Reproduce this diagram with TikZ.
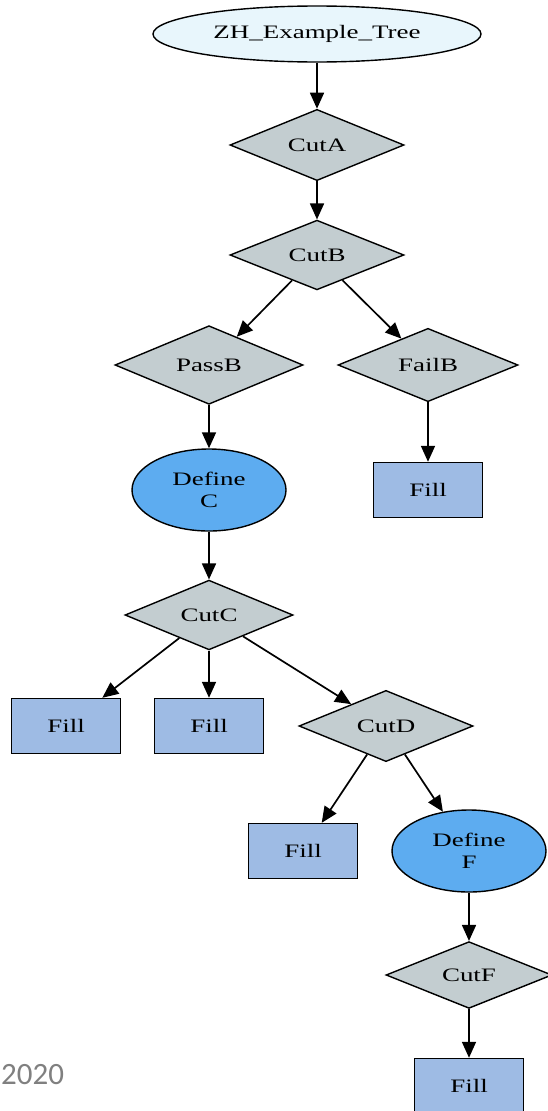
\documentclass[tikz,border=0pt]{standalone}
\usepackage{fontspec}
\setmainfont[FakeStretch=1.42]{Liberation Serif}
\newfontfamily\yearfont{Carlito}
\usepackage{xcolor}
\usepackage{tikz}
\usetikzlibrary{arrows.meta, positioning, shapes.geometric}
\definecolor{RootBG}{RGB}{232,246,252}
\definecolor{CutGray}{RGB}{195,205,208}
\definecolor{DefBlue}{RGB}{93,172,240}
\definecolor{FillBlue}{RGB}{158,187,228}
\definecolor{YearGray}{RGB}{128,128,128}

\begin{document}
\begin{tikzpicture}[
  x=1pt, y=1pt, on grid,
  every node/.style={font=\fontsize{19}{22}\selectfont},
  tree/.style={ellipse, draw, line width=1.4pt, fill=RootBG,
               minimum width=328pt, minimum height=56pt},
  cut/.style={diamond, draw, line width=1.4pt, fill=CutGray, inner sep=0pt,
              minimum width=174pt, minimum height=54pt},
  define/.style={ellipse, draw, line width=1.4pt, fill=DefBlue, align=center,
                 minimum width=154pt, minimum height=82pt},
  fillbox/.style={rectangle, draw, line width=1.4pt, fill=FillBlue,
                  minimum width=109pt, minimum height=55pt},
  arrow/.style={-{Triangle[length=16pt, width=14pt]}, line width=1.7pt}
]
\path[use as bounding box, clip] (0,0) rectangle (548,-1111);
\node[tree] (root) at (317,-34) {ZH\_Example\_Tree};
\node[cut, below=111pt of root] (cutA) {CutA};
\node[cut, below=110pt of cutA] (cutB) {CutB};
\node[cut, minimum width=188pt, below left=110pt and 108pt of cutB] (passB) {PassB};
\node[cut, minimum width=180pt, below right=110pt and 111pt of cutB] (failB) {FailB};
\node[define, below=125pt of passB] (defC) {Define\\C};
\node[fillbox, below=125pt of failB] (fillB) {Fill};
\node[cut, minimum width=168pt, below=125pt of defC] (cutC) {CutC};
\node[fillbox, below left=111pt and 143pt of cutC] (fillC1) {Fill};
\node[fillbox, below=111pt of cutC] (fillC2) {Fill};
\node[cut, below right=111pt and 177pt of cutC] (cutD) {CutD};
\node[fillbox, below left=125pt and 83pt of cutD] (fillD) {Fill};
\node[define, below right=125pt and 83pt of cutD] (defF) {Define\\F};
\node[cut, minimum width=166pt, below=124pt of defF] (cutF) {CutF};
\node[fillbox, below=111pt of cutF] (fillF) {Fill};
\node[font=\yearfont\fontsize{31}{36}\selectfont, text=YearGray, anchor=west,
      inner sep=0pt] (year) at (1,-1075) {2020};
\draw[arrow] (root) -- (cutA);
\draw[arrow] (cutA) -- (cutB);
\draw[arrow] (cutB) -- (passB);
\draw[arrow] (cutB) -- (failB);
\draw[arrow] (passB) -- (defC);
\draw[arrow] (failB) -- (fillB);
\draw[arrow] (defC) -- (cutC);
\draw[arrow] (cutC) -- (fillC1);
\draw[arrow] (cutC) -- (fillC2);
\draw[arrow] (cutC) -- (cutD);
\draw[arrow] (cutD) -- (fillD);
\draw[arrow] (cutD) -- (defF);
\draw[arrow] (defF) -- (cutF);
\draw[arrow] (cutF) -- (fillF);
\end{tikzpicture}
\end{document}
